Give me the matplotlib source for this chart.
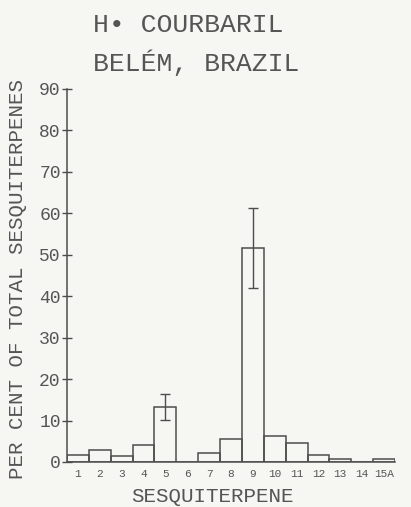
import matplotlib
matplotlib.use("Agg")
import matplotlib.pyplot as plt
import numpy as np

categories = ["1", "2", "3", "4", "5", "6", "7", "8", "9", "10", "11", "12", "13", "14", "15A"]
values = [1.6, 2.9, 1.5, 4.1, 13.3, 0.0, 2.2, 5.5, 51.6, 6.3, 4.6, 1.7, 0.7, 0.0, 0.8]
err_low = [0, 0, 0, 0, 3.2, 0, 0, 0, 9.6, 0, 0, 0, 0, 0, 0]
err_high = [0, 0, 0, 0, 3.1, 0, 0, 0, 9.6, 0, 0, 0, 0, 0, 0]
yticks = [0, 10, 20, 30, 40, 50, 60, 70, 80, 90]

ink = "#4d4d4d"
text_ink = "#555555"
bg = "#f6f6f3"
font = ["Liberation Mono", "DejaVu Sans Mono"]

fig = plt.figure(figsize=(4.11, 5.07), dpi=100, facecolor=bg)
ax = fig.add_axes([0.163, 0.0888, 0.798, 0.7357], facecolor=bg)

x = np.arange(1, len(categories) + 1)
ax.bar(x, values, width=1.0, facecolor="none", edgecolor=ink, linewidth=1.1)
idx = [i for i in range(len(values)) if err_low[i] > 0]
ax.errorbar(x[idx], np.array(values)[idx],
            yerr=[np.array(err_low)[idx], np.array(err_high)[idx]],
            fmt="none", ecolor=ink, elinewidth=1.0, capsize=3.6, capthick=1.0)

ax.set_xlim(0.5, 15.5)
ax.set_ylim(0, 90)
ax.set_xticks(x)
ax.set_xticklabels(categories, fontsize=8, family=font, color=text_ink)
ax.set_yticks(yticks)
ax.set_yticklabels([str(t) for t in yticks], fontsize=13, family=font, color=text_ink)
ax.tick_params(axis="x", length=0, pad=5)
ax.tick_params(axis="y", direction="inout", length=7, width=1.0, color=ink, pad=1)
for s in ["top", "right"]:
    ax.spines[s].set_visible(False)
for s in ["left", "bottom"]:
    ax.spines[s].set_color(ink)
    ax.spines[s].set_linewidth(1.1)

fig.text(212 / 411, 1 - 497 / 507, "SESQUITERPENE", fontsize=15, family=font,
         color=text_ink, ha="center", va="center")
fig.text(18 / 411, 1 - 279 / 507, "PER CENT OF TOTAL SESQUITERPENES", fontsize=15,
         family=font, color=text_ink, ha="center", va="center", rotation=90)

fig.text(0.226, 0.951, "H\u2022 COURBARIL", fontsize=19, family=font, color=text_ink, ha="left", va="center")
fig.text(0.226, 0.876, "BEL\u00c9M, BRAZIL", fontsize=19, family=font, color=text_ink, ha="left", va="center")

fig.savefig("out.png", dpi=100, facecolor=bg)
